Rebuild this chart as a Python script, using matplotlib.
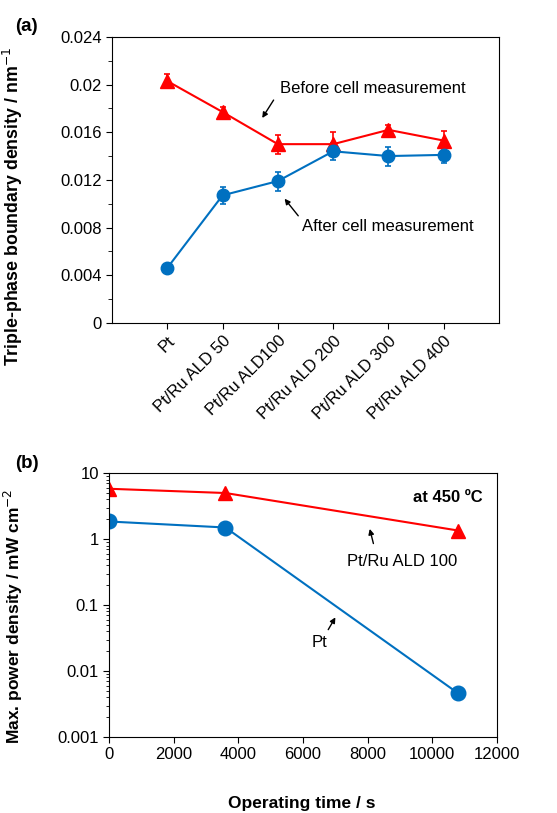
import matplotlib.pyplot as plt
import numpy as np

plt.rcParams['font.family'] = ['Liberation Sans', 'DejaVu Sans']

# (a) triple-phase boundary density
samples = ["Pt", "Pt/Ru ALD 50", "Pt/Ru ALD100", "Pt/Ru ALD 200", "Pt/Ru ALD 300", "Pt/Ru ALD 400"]
before = [0.0203, 0.0177, 0.0150, 0.0150, 0.0162, 0.0153]
before_err = [0.0006, 0.0004, 0.0008, 0.0010, 0.0004, 0.0008]
after = [0.0046, 0.0107, 0.0119, 0.0144, 0.0140, 0.0141]
after_err = [0.0002, 0.0007, 0.0008, 0.0007, 0.0008, 0.0007]

# (b) max. power density vs operating time
time_s = [0, 3600, 10800]
ald100_power = [5.8, 5.0, 1.35]
pt_power = [1.85, 1.5, 0.0046]

red = "#FF0000"
blue = "#0070C0"
fs = 12

fig = plt.figure(figsize=(5.57, 8.13), dpi=100)

# ---------- panel a ----------
ax1 = fig.add_axes([0.201, 0.603, 0.695, 0.3515])
xpos = np.arange(1, len(samples) + 1)
ax1.errorbar(xpos, before, yerr=before_err, color=red, marker="^", ms=9.5, lw=1.5,
             capsize=2.5, elinewidth=1.2, capthick=1.2)
ax1.errorbar(xpos, after, yerr=after_err, color=blue, marker="o", ms=9, lw=1.5,
             capsize=2.5, elinewidth=1.2, capthick=1.2)
ax1.set_xlim(0, 7)
ax1.set_ylim(0, 0.024)
ax1.set_yticks(np.arange(0, 0.0241, 0.004))
ax1.set_yticklabels(["0", "0.004", "0.008", "0.012", "0.016", "0.02", "0.024"])
ax1.set_yticks(np.arange(0.002, 0.024, 0.004), minor=True)
ax1.set_xticks(xpos)
ax1.set_xticklabels(samples, rotation=45, ha="right", rotation_mode="anchor")
ax1.tick_params(axis="both", direction="out", labelsize=fs, length=4)
ax1.tick_params(axis="y", which="minor", direction="out", length=3)
ax1.set_ylabel("Triple-phase boundary density / nm$^{-1}$", fontsize=12.8, fontweight="bold")
ax1.yaxis.set_label_coords(-0.225, 0.406)

ax1.annotate("", xy=(2.69, 0.0170), xytext=(2.95, 0.0189),
             arrowprops=dict(arrowstyle="-|>", color="black", lw=1, mutation_scale=8))
ax1.text(3.04, 0.0197, "Before cell measurement", fontsize=fs, va="center")
ax1.annotate("", xy=(3.09, 0.0106), xytext=(3.40, 0.0088),
             arrowprops=dict(arrowstyle="-|>", color="black", lw=1, mutation_scale=8))
ax1.text(3.44, 0.0081, "After cell measurement", fontsize=fs, va="center")

fig.text(0.027, 0.967, "(a)", fontsize=13.5, fontweight="bold", va="center")

# ---------- panel b ----------
ax2 = fig.add_axes([0.196, 0.0935, 0.696, 0.3245])
ax2.plot(time_s, ald100_power, color=red, marker="^", ms=10.5, lw=1.5)
ax2.plot(time_s, pt_power, color=blue, marker="o", ms=10.5, lw=1.5)
ax2.set_yscale("log")
ax2.set_xlim(0, 12000)
ax2.set_ylim(0.001, 10)
ax2.set_xticks(np.arange(0, 12001, 2000))
ax2.set_yticks([0.001, 0.01, 0.1, 1, 10])
ax2.set_yticklabels(["0.001", "0.01", "0.1", "1", "10"])
ax2.tick_params(axis="both", direction="out", labelsize=fs, length=4)
ax2.tick_params(axis="y", which="minor", direction="out", length=2.5)
ax2.set_ylabel("Max. power density / mW cm$^{-2}$", fontsize=12.5, fontweight="bold")
ax2.yaxis.set_label_coords(-0.216, 0.458)
fig.text(0.542, 0.0123, "Operating time / s", fontsize=12.5, fontweight="bold",
         ha="center", va="center")

ax2.text(11550, 4.3, "at 450 ºC", fontsize=fs, fontweight="bold", ha="right", va="center")
ax2.annotate("", xy=(8045, 1.57), xytext=(8200, 0.78),
             arrowprops=dict(arrowstyle="-|>", color="black", lw=1, mutation_scale=8))
ax2.text(7364, 0.45, "Pt/Ru ALD 100", fontsize=fs, va="center")
ax2.annotate("", xy=(7046, 0.0708), xytext=(6737, 0.039),
             arrowprops=dict(arrowstyle="-|>", color="black", lw=1, mutation_scale=8))
ax2.text(6507, 0.0275, "Pt", fontsize=fs, ha="center", va="center")

fig.text(0.027, 0.43, "(b)", fontsize=13.5, fontweight="bold", va="center")

plt.savefig("out.png", dpi=100)
